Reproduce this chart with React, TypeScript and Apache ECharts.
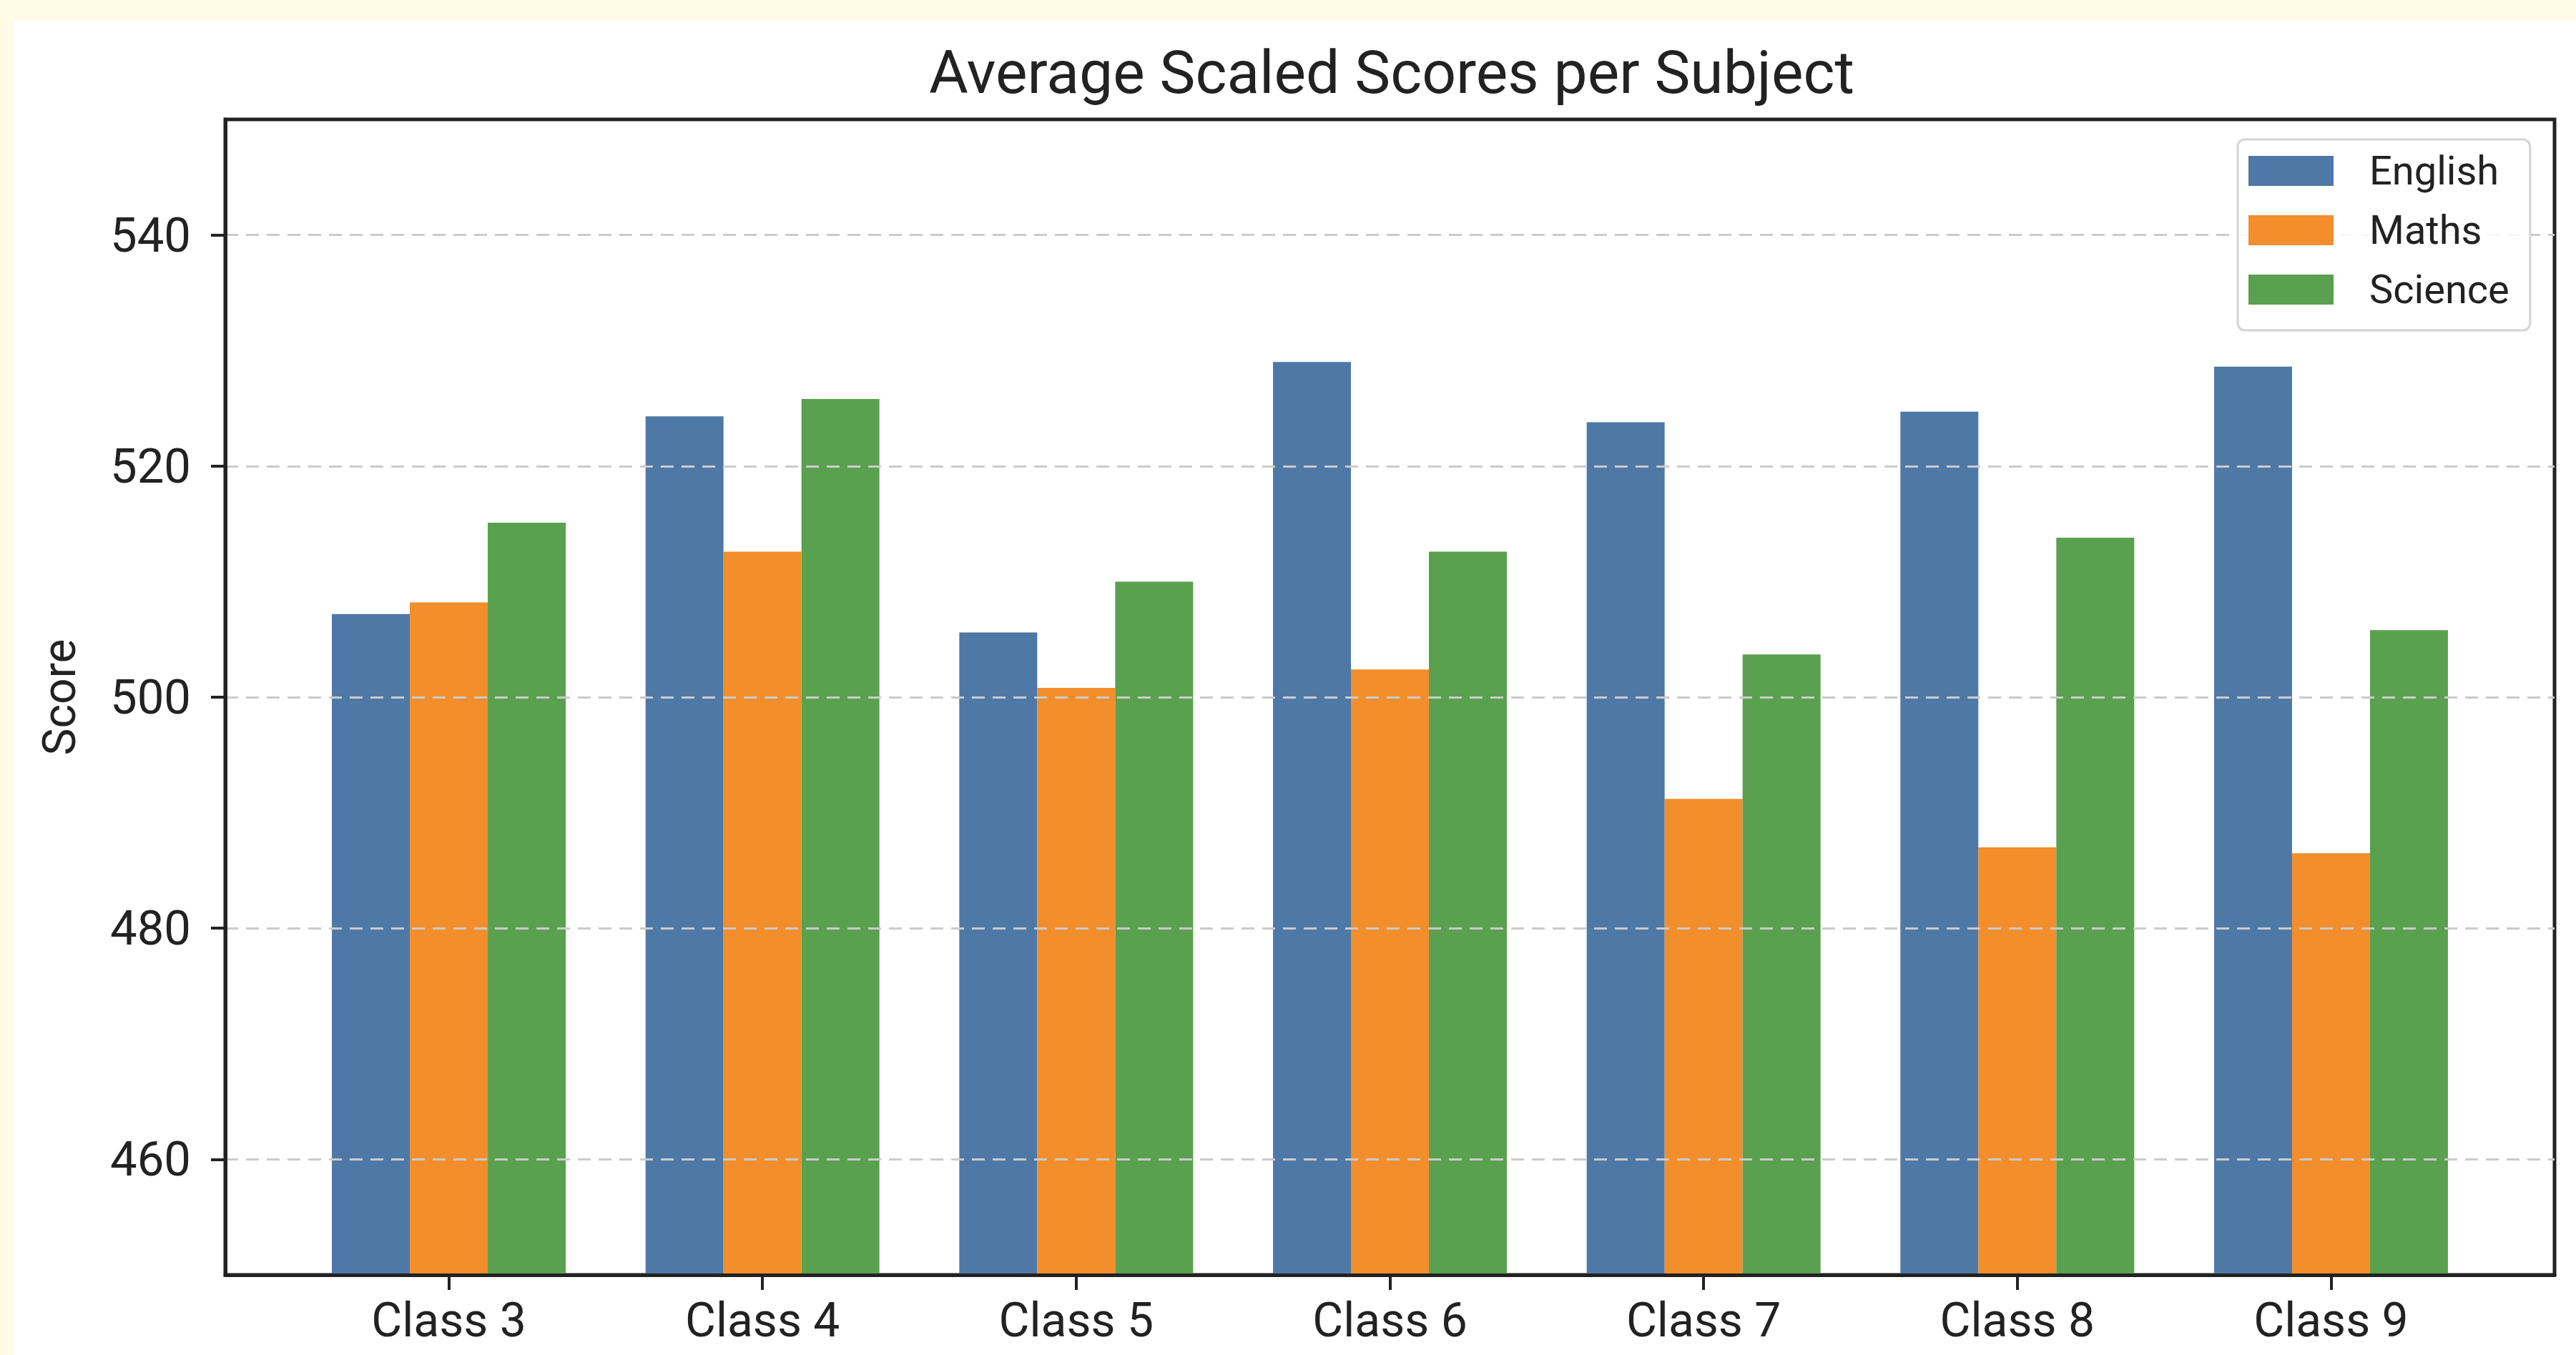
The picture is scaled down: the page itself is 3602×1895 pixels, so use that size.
import React, { useEffect, useRef } from "react";
import * as echarts from "echarts";

const categories = ["Class 3", "Class 4", "Class 5", "Class 6", "Class 7", "Class 8", "Class 9"];
const english = [507.2, 524.3, 505.6, 529.0, 523.8, 524.7, 528.6];
const maths = [508.2, 512.6, 500.8, 502.4, 491.2, 487.0, 486.5];
const science = [515.1, 525.8, 510.0, 512.6, 503.7, 513.8, 505.8];
const yTicks = [460, 480, 500, 520, 540];
const xTicks = [0, 1, 2, 3, 4, 5, 6];

const FONT = "Roboto, 'Liberation Sans', sans-serif";
const TEXT = "#222222";

export default function App() {
  const ref = useRef<HTMLDivElement>(null);

  useEffect(() => {
    if (!ref.current) return;
    const chart = echarts.init(ref.current, null, { renderer: "svg" });
    const mk = (name: string, vals: number[], color: string) => ({
      name,
      type: "bar",
      data: vals.map((v, i) => [xTicks[i], v]),
      barWidth: 109,
      barGap: "0%",
      itemStyle: { color },
      z: 2,
    });
    chart.setOption({
      animation: false,
      textStyle: { fontFamily: FONT },
      title: {
        text: "Average Scaled Scores per Subject",
        left: 1922,
        top: 25,
        textAlign: "center",
        textStyle: { fontSize: 84, fontWeight: "normal", color: TEXT, fontFamily: FONT },
      },
      legend: {
        orient: "vertical",
        left: 3110,
        top: 166,
        itemWidth: 119,
        itemHeight: 42,
        itemGap: 27,
        icon: "rect",
        padding: [16, 29, 29, 15],
        backgroundColor: "rgba(255,255,255,0.85)",
        borderColor: "#d4d4d4",
        borderWidth: 3,
        borderRadius: 10,
        selectedMode: false,
        textStyle: { fontSize: 56, color: TEXT, fontFamily: FONT, padding: [0, 0, 0, 45] },
        data: ["English", "Maths", "Science"],
        z: 20,
      },
      grid: {
        left: 296,
        right: 30,
        top: 138,
        bottom: 112,
        show: true,
        borderColor: TEXT,
        borderWidth: 5,
        backgroundColor: "transparent",
      },
      xAxis: {
        type: "value",
        position: "bottom",
        min: -0.7125,
        max: 6.7125,
        axisLine: { show: true, onZero: false, lineStyle: { color: TEXT, width: 5 } },
        splitLine: { show: false },
        axisTick: { show: true, customValues: xTicks, length: 21, lineStyle: { color: TEXT, width: 4 } },
        axisLabel: {
          customValues: xTicks,
          formatter: (v: number) => categories[Math.round(v)] ?? "",
          fontSize: 66,
          color: TEXT,
          fontFamily: FONT,
          margin: 30,
        },
        z: 4,
      },
      yAxis: {
        type: "value",
        position: "left",
        min: 450,
        max: 550,
        name: "Score",
        nameLocation: "middle",
        nameGap: 200,
        nameTextStyle: { fontSize: 64, color: TEXT, fontFamily: FONT },
        axisLine: { show: true, onZero: false, lineStyle: { color: TEXT, width: 5 } },
        axisTick: { show: true, customValues: yTicks, length: 20, lineStyle: { color: TEXT, width: 4 } },
        axisLabel: { customValues: yTicks, fontSize: 67, color: TEXT, fontFamily: FONT, margin: 48 },
        splitLine: {
          show: true,
          lineStyle: { color: "#cbcbcb", width: 3, type: [18, 11] },
        },
        z: 3,
      },
      series: [
        mk("English", english, "#4e79a7"),
        mk("Maths", maths, "#f28e2b"),
        mk("Science", science, "#59a14f"),
      ],
    });
    return () => chart.dispose();
  }, []);

  return (
    <div style={{ position: "fixed", left: 0, top: 0, width: 3602, height: 1895, background: "#fffbe6" }}>
      <div
        ref={ref}
        style={{ position: "absolute", left: 19, top: 29, width: 3583, height: 1866, background: "#ffffff" }}
      />
    </div>
  );
}
